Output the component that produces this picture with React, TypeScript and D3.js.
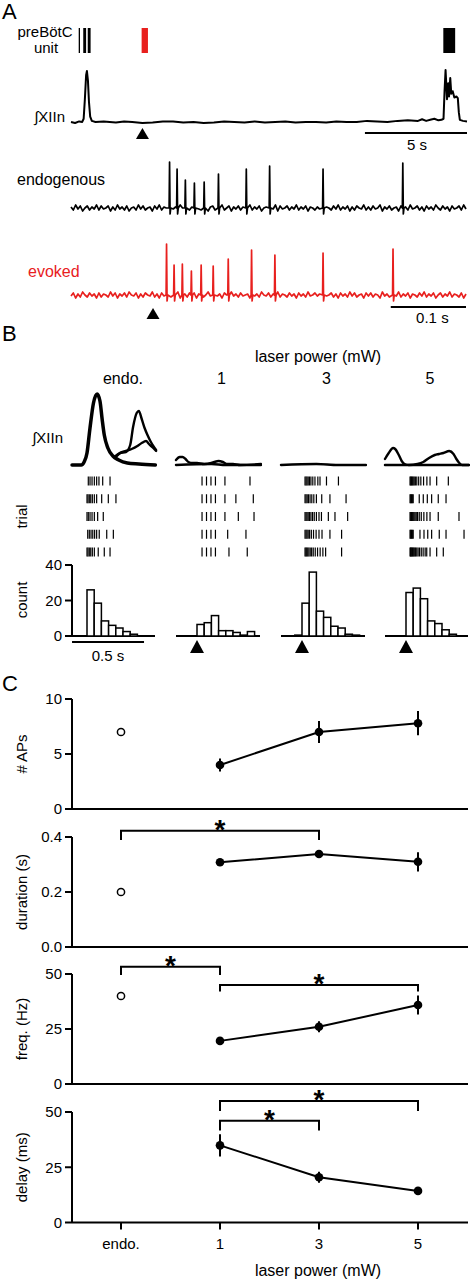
import React from "react";
import * as d3 from "d3";

const FONT = "'Liberation Sans', Arial, Helvetica, sans-serif";
const RED = "#e8201e";

// ---------------- Panel A data ----------------
// preBötC unit bursts (s)
const unitBurstsBlack: [number, number][] = [[0.377, 0.407], [0.6, 0.74], [0.82, 0.96], [18.24, 18.82]];
const unitBurstsRed: [number, number][] = [[3.46, 3.77]];
const stimA = 3.5; // s
const scaleBarA = 5; // s
// integrated XII nerve (s, normalized)
const xiiA: [number, number][] = [
  [0, 0.02], [0.2, 0.0], [0.4, 0.03], [0.55, 0.02], [0.62, 0.08], [0.68, 0.45], [0.74, 0.9], [0.78, 0.98],
  [0.83, 0.8], [0.88, 0.4], [0.94, 0.12], [1.02, 0.04], [1.2, 0.02], [1.6, 0.03], [2.2, 0.01], [2.6, 0.03], [3.0, 0.02],
  [3.5, 0.0], [4.0, 0.01], [4.5, 0.03], [5.0, 0.03], [5.5, 0.01], [6.0, 0.02], [6.5, 0.0], [7.0, 0.01], [7.5, 0.03], [8.0, 0.02],
  [8.5, 0.01], [9.0, 0.03], [9.5, 0.01], [10, 0.02], [10.5, 0.03], [11, 0.01], [11.5, 0.02],
  [12, 0.02], [12.5, 0.01], [13, 0.03], [13.5, 0.02], [14, 0.02], [14.5, 0.04], [15, 0.03], [15.5, 0.02], [16, 0.04], [16.5, 0.05], [17, 0.04], [17.2, 0.07],
  [17.4, 0.04], [17.6, 0.06], [17.8, 0.08], [18.0, 0.05], [18.15, 0.06], [18.25, 0.08], [18.3, 0.6],
  [18.35, 1.0], [18.42, 0.45], [18.48, 0.75], [18.52, 0.5], [18.58, 0.85], [18.63, 0.55], [18.7, 0.6],
  [18.78, 0.48], [18.88, 0.5], [18.95, 0.47], [19.0, 0.2], [19.05, 0.06], [19.2, 0.04], [19.4, 0.03],
];
// unit recordings: spikes (ms, amplitude)
const endoSpikes: [number, number][] = [
  [131, 46], [141, 39], [152, 28], [164, 25], [177, 26], [196, 34], [233, 39], [264, 42], [335, 39], [441, 45],
];
const evokedSpikes: [number, number][] = [
  [127, 51], [137, 30], [148, 31], [160, 24], [173, 30], [189, 29], [209, 36], [240, 45], [271, 40], [335, 42], [428, 46],
];
const noiseEndo = [1,-2,3,-1,2,-3,0,2,-2,1,-1,3,-2,2,-1,0,2,-3,1,-2,3,-1,1,-2,2,-3,0,1,-2,3,-1,2,-2,0,1,-3,2,-1,3,-2,1,0,-2,2,-1,1,-3,3,0,-1,2,-2,1,-2,3,-1,-2,2,0,-3,1,2,-2,1,-1,3,-2,0,2,-3,1,-1,2,-2,1,0,-1,3,-2,1,-1,2,-3,0,1,-2,2,-1,3,-3,2,-1,0,2,-2,1,-1,3,-2,1,-1,2,-3,1,0,-2,1,-1,3,-2,1,0,-2,2,-1,3,-2,1,-1,2,-3,1,-2,2,0,-1,3,-2,1,-2,2,-1,0,3,-3,1,-1,2,-2,0,1,-3,2,-1,1,-2,3,-1,0,2,-2,1,-3,2,-1,1,-2,3,0,-2,2,-1,1,-3,2,-1,0,2,-2,3,-1];
const noiseEvoked = [-1,2,-3,1,-2,3,0,-2,2,-1,1,-3,2,-2,1,0,-2,3,-1,2,-3,1,-1,2,-2,3,0,-1,2,-3,1,-2,2,0,-1,3,-2,1,-3,2,-1,0,2,-2,1,-1,3,-3,0,1,-2,2,-1,2,-3,1,2,-2,0,3,-1,-2,2,-1,1,-3,2,0,-2,3,-1,1,-2,2,-1,0,1,-3,2,-1,1,-2,3,0,-1,2,-2,1,-3,3,-2,1,0,-2,2,-1,1,-3,2,-1,1,-2,3,-1,0,2,-1,1,-3,2,-1,0,2,-2,1,-3,2,-1,1,-2,3,-1,2,-2,0,1,-3,2,-1,2,-2,1,0,-3,3,-1,1,-2,2,0,-1,3,-2,1,-1,2,-3,1,0,-2,2,-1,3,-2,1,-1,2,-3,0,2,-2,1,-1,3,-2,1,0,-2,2,-3,1];
const traceDuration = 525; // ms
const stimEvoked = 109; // ms
const scaleBarTrace = 100; // ms

// ---------------- Panel B data ----------------
const bColumns = ["endo.", "1", "3", "5"];
// integrated XIIn traces (s from stim, amplitude)
const xiiBEndo: [number, number][][] = [
  [[-0.104, 0], [-0.04, 0], [-0.02, 3], [0.0, 12], [0.02, 36], [0.045, 62], [0.07, 71], [0.09, 64], [0.105, 46], [0.12, 30], [0.145, 17], [0.18, 9], [0.22, 5], [0.28, 2], [0.36, 1], [0.475, 0]],
  [[0.19, 8], [0.23, 12], [0.27, 13], [0.3, 20], [0.32, 38], [0.345, 52], [0.36, 54], [0.38, 46], [0.4, 37], [0.42, 30], [0.44, 24], [0.46, 19], [0.48, 15]],
  [[0.2, 8], [0.23, 12], [0.27, 14], [0.31, 16], [0.35, 19], [0.38, 22], [0.41, 24], [0.43, 21], [0.46, 17], [0.48, 14]],
];
const xiiB1: [number, number][][] = [
  [[-0.146, 0], [0.1, 1], [0.2, 0], [0.444, 0]],
  [[-0.146, 5], [-0.12, 8], [-0.1, 8], [-0.08, 6], [-0.06, 3], [-0.03, 2], [0.0, 2], [0.05, 1], [0.1, 2], [0.12, 3], [0.15, 4], [0.18, 3], [0.21, 1], [0.25, 1], [0.3, 0], [0.444, 1]],
];
const xiiB3: [number, number][][] = [
  [[-0.146, 0], [0.1, 1], [0.25, 0], [0.444, 0]],
];
const xiiB5: [number, number][][] = [
  [[-0.146, 0], [0.1, 0], [0.4375, 0]],
  [[-0.146, 6], [-0.12, 12], [-0.09, 17], [-0.075, 16], [-0.05, 10], [-0.03, 4], [-0.01, 1], [0.02, 0], [0.08, 1], [0.12, 3], [0.16, 7], [0.2, 10], [0.23, 11], [0.26, 12], [0.3, 14], [0.33, 11], [0.35, 6], [0.37, 2], [0.39, 0], [0.4375, 0]],
];
// raster spike times (ms)
const rasterEndo = [
  [9, 21, 35, 51, 67, 83, 109, 160],
  [0, 7, 16, 26, 37, 51, 67, 102, 148, 201],
  [0, 9, 21, 35, 51, 74, 113],
  [5, 16, 28, 40, 53, 67, 85, 137, 183],
  [0, 7, 16, 26, 37, 51, 78, 120, 160],
];
const raster1 = [
  [35, 66, 97, 128, 194, 368],
  [35, 66, 97, 128, 194, 270, 391],
  [35, 66, 97, 128, 194, 287, 396],
  [35, 66, 97, 128, 213, 340],
  [35, 66, 97, 128, 222, 349],
];
const raster3 = [
  [21, 28, 35, 43, 52, 62, 75, 90, 110, 125, 170, 253],
  [21, 28, 36, 45, 56, 68, 82, 100, 137, 194, 306],
  [21, 28, 35, 43, 52, 62, 73, 85, 100, 118, 135, 183, 229, 317],
  [21, 28, 35, 43, 53, 65, 80, 98, 118, 139, 194, 275],
  [21, 27, 33, 40, 48, 57, 67, 78, 92, 108, 126, 145, 164, 275],
];
const raster5 = [
  [28, 33, 38, 44, 50, 57, 65, 75, 88, 103, 122, 145, 167, 213, 294],
  [28, 33, 38, 44, 50, 92, 120, 148, 178, 224, 278],
  [28, 33, 38, 44, 50, 56, 63, 71, 80, 92, 106, 124, 145, 167, 224, 368],
  [28, 33, 38, 44, 50, 97, 125, 151, 178, 231, 278, 403],
  [28, 32, 36, 40, 45, 50, 55, 61, 67, 75, 84, 94, 106, 119, 133, 144, 167, 213, 259],
];
// histograms (counts per 50 ms bin)
const histEndo = [26, 18.5, 8.5, 6, 4.5, 2.5, 1];
const hist1 = [6.5, 7.5, 11.5, 3, 3, 2, 0.5, 2.5];
const hist3 = [0.5, 18.5, 36, 14, 10.5, 5.5, 4.5, 1, 0.5];
const hist5 = [24.5, 27, 21, 8.5, 7, 3.5, 1];
const histStart = [0, 0, -0.05, 0]; // s
const binWidth = 0.05; // s
const histTicks = [0, 20, 40];
const scaleBarB = 0.5; // s

// ---------------- Panel C data ----------------
const categories = ["endo.", "1", "3", "5"];
const apsMean = [7.0, 4.0, 7.0, 7.8];
const apsErr = [0, 0.6, 1.0, 1.1];
const durMean = [0.2, 0.308, 0.338, 0.31];
const durErr = [0, 0.01, 0.012, 0.035];
const freqMean = [40, 19.6, 26, 35.9];
const freqErr = [0, 1, 2.5, 4.3];
const delayMean: (number | null)[] = [null, 34.9, 20.5, 14.3];
const delayErr = [0, 5, 2.5, 0.8];
// brackets: [from, to, level, tick end]
const durBrackets: [number, number, number, number][] = [[0, 2, 0.423, 0.389]];
const freqBrackets: [number, number, number, number][] = [[0, 1, 53.3, 49.5], [1, 3, 45, 42]];
const delayBrackets: [number, number, number, number][] = [[1, 3, 55, 50.5], [1, 2, 46, 41.6]];

// ---------------- layout ----------------
const bT0 = [87, 197, 302, 406];
const bLeft = [72, 176, 281, 385];
const bRight = [156, 261, 366, 469];
const PX_PER_S = 144;

function buildTrace(noise: number[], spikes: [number, number][]): [number, number][] {
  const step = traceDuration / (noise.length - 1);
  const pts: [number, number][] = [];
  noise.forEach((v, i) => {
    const t = i * step;
    if (spikes.some(([s]) => t > s - 2 && t < s + 3)) return;
    pts.push([t, v]);
  });
  spikes.forEach(([s, a]) => {
    pts.push([s - 0.6, 0], [s, a], [s + 0.7, -6], [s + 1.6, 0]);
  });
  pts.sort((a, b) => a[0] - b[0]);
  return pts;
}

function tri(cx: number, top: number, w: number, h: number) {
  return `M${cx},${top}L${cx + w / 2},${top + h}L${cx - w / 2},${top + h}Z`;
}

export default function App() {
  // ---- A ----
  const xA = d3.scaleLinear().domain([0, 19.4]).range([71, 467]);
  const yA = d3.scaleLinear().domain([0, 1]).range([123, 70]);
  const lineA = d3.line<[number, number]>().x((d) => xA(d[0])).y((d) => yA(d[1]));

  const xT = d3.scaleLinear().domain([0, traceDuration]).range([71, 466]);
  const yEndo = d3.scaleLinear().domain([0, 50]).range([208, 158]);
  const yEvo = d3.scaleLinear().domain([0, 50]).range([295, 245]);
  const lineEndo = d3.line<[number, number]>().x((d) => xT(d[0])).y((d) => yEndo(d[1]));
  const lineEvo = d3.line<[number, number]>().x((d) => xT(d[0])).y((d) => yEvo(d[1]));

  // ---- B ----
  const bx = bT0.map((t0) => d3.scaleLinear().domain([0, 1]).range([t0, t0 + PX_PER_S]));
  const yBTrace = d3.scaleLinear().domain([0, 70]).range([465, 395]);
  const yRow = d3.scaleLinear().domain([0, 4]).range([481, 552]);
  const yHist = d3.scaleLinear().domain([0, 40]).range([636, 565]);
  const bTraces = [xiiBEndo, xiiB1, xiiB3, xiiB5];
  const rasters = [rasterEndo, raster1, raster3, raster5];
  const hists = [histEndo, hist1, hist3, hist5];

  // ---- C ----
  const xC = d3.scalePoint<string>().domain(categories).range([121, 418]);
  const cPanels = [
    { label: "# APs", mean: apsMean, err: apsErr, domain: [0, 10], ticks: [0, 5, 10], fmt: (d: number) => String(d), top: 699, bottom: 809, brackets: [] as [number, number, number, number][] },
    { label: "duration (s)", mean: durMean, err: durErr, domain: [0, 0.4], ticks: [0, 0.2, 0.4], fmt: d3.format(".1f"), top: 837, bottom: 947, brackets: durBrackets },
    { label: "freq. (Hz)", mean: freqMean, err: freqErr, domain: [0, 50], ticks: [0, 25, 50], fmt: (d: number) => String(d), top: 974, bottom: 1084, brackets: freqBrackets },
    { label: "delay (ms)", mean: delayMean, err: delayErr, domain: [0, 50], ticks: [0, 25, 50], fmt: (d: number) => String(d), top: 1112, bottom: 1222.5, brackets: delayBrackets },
  ];

  return (
    <svg width={470} height={1280} style={{ position: "absolute", left: 0, top: 0, background: "#fff" }} fontFamily={FONT}>
      <rect width={470} height={1280} fill="#fff" />
      {/* Panel letters */}
      <text x={2} y={19} fontSize={22}>A</text>
      <text x={2} y={341} fontSize={22}>B</text>
      <text x={2} y={691} fontSize={22}>C</text>

      {/* ===== Panel A ===== */}
      <text x={45} y={37} fontSize={15} textAnchor="middle">preBötC</text>
      <text x={46} y={53} fontSize={15} textAnchor="middle">unit</text>
      {unitBurstsBlack.map(([s, e], i) => (
        <rect key={"ub" + i} x={xA(s)} y={28} width={Math.max(1.3, xA(e) - xA(s))} height={25} fill="#000" />
      ))}
      {unitBurstsRed.map(([s, e], i) => (
        <rect key={"ur" + i} x={xA(s)} y={28} width={Math.max(1.3, xA(e) - xA(s))} height={25} fill={RED} />
      ))}
      <text x={65} y={122} fontSize={15} textAnchor="end">∫XIIn</text>
      <path d={lineA(xiiA) || ""} fill="none" stroke="#000" strokeWidth={2} strokeLinejoin="round" />
      <path d={tri(xA(stimA), 128, 13, 11)} fill="#000" />
      <line x1={xA(19.4 - scaleBarA)} x2={xA(19.4)} y1={133} y2={133} stroke="#000" strokeWidth={2} />
      <text x={(xA(19.4 - scaleBarA) + xA(19.4)) / 2 + 1} y={150} fontSize={15} textAnchor="middle">5 s</text>

      <text x={17} y={185} fontSize={16}>endogenous</text>
      <path d={lineEndo(buildTrace(noiseEndo, endoSpikes)) || ""} fill="none" stroke="#000" strokeWidth={1.7} strokeLinejoin="round" />
      <text x={28} y={277} fontSize={16} fill={RED}>evoked</text>
      <path d={lineEvo(buildTrace(noiseEvoked, evokedSpikes)) || ""} fill="none" stroke={RED} strokeWidth={1.7} strokeLinejoin="round" />
      <path d={tri(xT(stimEvoked), 308, 13, 11)} fill="#000" />
      <line x1={xT(traceDuration - scaleBarTrace)} x2={xT(traceDuration)} y1={307} y2={307} stroke="#000" strokeWidth={2} />
      <text x={(xT(traceDuration - scaleBarTrace) + xT(traceDuration)) / 2 + 4} y={323} fontSize={15} textAnchor="middle">0.1 s</text>

      {/* ===== Panel B ===== */}
      <text x={318} y={362} fontSize={16} textAnchor="middle">laser power (mW)</text>
      {bColumns.map((c, i) => (
        <text key={"bc" + i} x={i === 0 ? 123 : (bLeft[i] + bRight[i]) / 2 + 3} y={384} fontSize={16} textAnchor="middle">{c}</text>
      ))}
      <text x={63} y={443} fontSize={15} textAnchor="end">∫XIIn</text>
      {bTraces.map((traces, i) =>
        traces.map((tr, j) => {
          const ln = d3.line<[number, number]>().x((d) => bx[i](d[0])).y((d) => yBTrace(d[1])).curve(d3.curveMonotoneX);
          return (
            <path key={"bt" + i + "-" + j} d={ln(tr) || ""} fill="none" stroke="#000"
              strokeWidth={i === 0 && j === 0 ? 3.5 : 2.4} strokeLinejoin="round" strokeLinecap="round" />
          );
        })
      )}
      {/* raster */}
      <text transform={`translate(22,${yRow(2)}) rotate(-90)`} fontSize={15} textAnchor="middle" dy="0.35em">trial</text>
      {rasters.map((rows, i) =>
        rows.map((row, r) =>
          row.map((ms, k) => (
            <line key={`r${i}-${r}-${k}`} x1={bx[i](ms / 1000)} x2={bx[i](ms / 1000)} y1={yRow(r) - 4.5} y2={yRow(r) + 4.5} stroke="#000" strokeWidth={1.2} />
          ))
        )
      )}
      {/* histograms */}
      <text transform={`translate(22,600) rotate(-90)`} fontSize={15} textAnchor="middle" dy="0.35em">count</text>
      <line x1={72} x2={72} y1={yHist(40)} y2={yHist(0)} stroke="#000" strokeWidth={2} />
      {histTicks.map((t) => (
        <g key={"ht" + t}>
          <line x1={65} x2={72} y1={yHist(t)} y2={yHist(t)} stroke="#000" strokeWidth={2} />
          <text x={62} y={yHist(t)} dy="0.35em" fontSize={15} textAnchor="end">{t}</text>
        </g>
      ))}
      {hists.map((h, i) => (
        <g key={"h" + i}>
          <line x1={bLeft[i]} x2={bRight[i] - 1} y1={yHist(0)} y2={yHist(0)} stroke="#000" strokeWidth={2} />
          {h.map((c, k) => {
            const t0 = histStart[i] + k * binWidth;
            const x0 = bx[i](t0);
            const x1 = bx[i](t0 + binWidth);
            return <rect key={k} x={x0} y={yHist(c)} width={x1 - x0} height={yHist(0) - yHist(c)} fill="#fff" stroke="#000" strokeWidth={1.5} />;
          })}
          {i > 0 && <path d={tri(bx[i](0), 640, 14, 13)} fill="#000" />}
        </g>
      ))}
      <line x1={bx[0](-0.104)} x2={bx[0](-0.104 + scaleBarB)} y1={642} y2={642} stroke="#000" strokeWidth={2} />
      <text x={(bx[0](-0.104) + bx[0](-0.104 + scaleBarB)) / 2} y={661} fontSize={15} textAnchor="middle">0.5 s</text>

      {/* ===== Panel C ===== */}
      {cPanels.map((p, pi) => {
        const y = d3.scaleLinear().domain(p.domain).range([p.bottom, p.top]);
        const pts = p.mean.map((m, i) => ({ i, m, e: p.err[i] })).filter((d) => d.m !== null && d.i > 0) as { i: number; m: number; e: number }[];
        const ln = d3.line<{ i: number; m: number }>().x((d) => xC(categories[d.i])!).y((d) => y(d.m));
        return (
          <g key={"c" + pi}>
            <text transform={`translate(22,${(p.top + p.bottom) / 2}) rotate(-90)`} fontSize={15} textAnchor="middle" dy="0.35em">{p.label}</text>
            <line x1={72} x2={72} y1={p.top} y2={p.bottom} stroke="#000" strokeWidth={2} />
            <line x1={72} x2={468} y1={p.bottom} y2={p.bottom} stroke="#000" strokeWidth={2} />
            {p.ticks.map((t) => (
              <g key={"t" + t}>
                <line x1={65} x2={72} y1={y(t)} y2={y(t)} stroke="#000" strokeWidth={2} />
                <text x={62} y={y(t)} dy="0.35em" fontSize={15} textAnchor="end">{p.fmt(t)}</text>
              </g>
            ))}
            {p.brackets.map(([a, b, lv, dr], k) => {
              const x1 = xC(categories[a])!;
              const x2 = xC(categories[b])!;
              return (
                <g key={"br" + k}>
                  <path d={`M${x1},${y(dr)}V${y(lv)}H${x2}V${y(dr)}`} fill="none" stroke="#000" strokeWidth={2} />
                  <text x={(x1 + x2) / 2} y={y(lv) + 8} fontSize={28} fontWeight="bold" textAnchor="middle">*</text>
                </g>
              );
            })}
            <path d={ln(pts) || ""} fill="none" stroke="#000" strokeWidth={2} />
            {pts.map((d) => (
              <g key={"p" + d.i}>
                {d.e > 0 && <line x1={xC(categories[d.i])} x2={xC(categories[d.i])} y1={y(d.m - d.e)} y2={y(d.m + d.e)} stroke="#000" strokeWidth={2} />}
                <circle cx={xC(categories[d.i])} cy={y(d.m)} r={4.3} fill="#000" />
              </g>
            ))}
            {p.mean[0] !== null && (
              <circle cx={xC(categories[0])} cy={y(p.mean[0] as number)} r={3.6} fill="#fff" stroke="#000" strokeWidth={1.5} />
            )}
            {pi === cPanels.length - 1 && categories.map((c) => (
              <g key={"xc" + c}>
                <line x1={xC(c)} x2={xC(c)} y1={p.bottom} y2={p.bottom + 7} stroke="#000" strokeWidth={2} />
                <text x={xC(c)} y={1249} fontSize={15} textAnchor="middle">{c}</text>
              </g>
            ))}
          </g>
        );
      })}
      <text x={318} y={1276} fontSize={16} textAnchor="middle">laser power (mW)</text>
    </svg>
  );
}
